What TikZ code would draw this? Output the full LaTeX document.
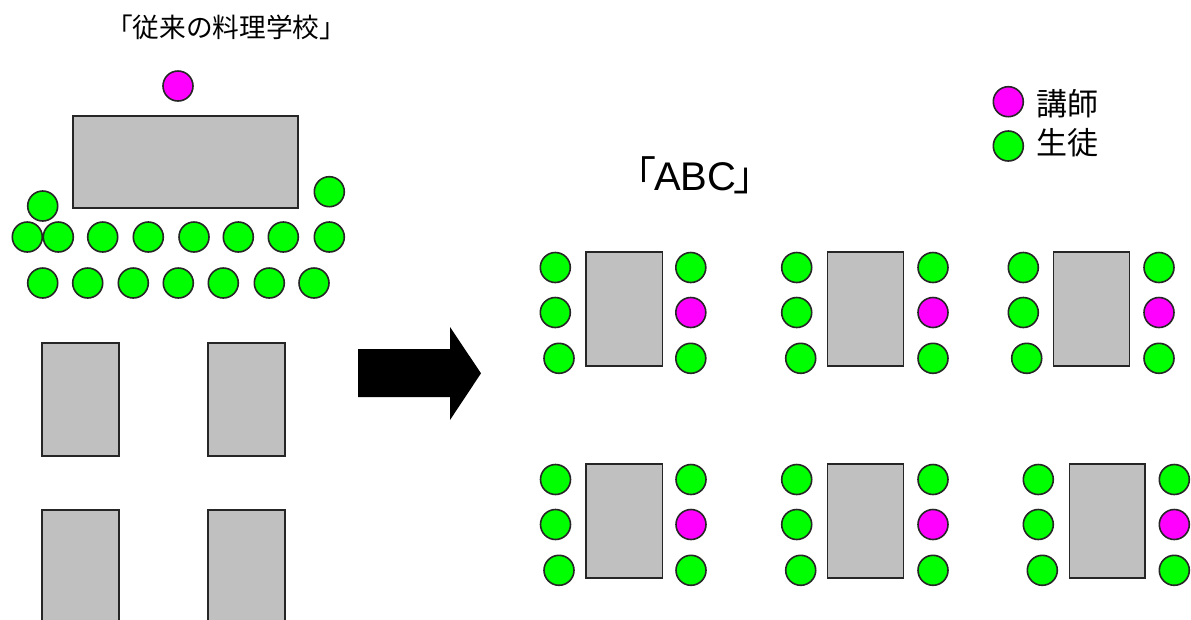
\documentclass[tikz,border=0pt]{standalone}
\usepackage{fontspec}
\setmainfont{Liberation Sans}
\newfontfamily\jpfont{Noto Sans CJK JP}
\definecolor{stugreen}{HTML}{00FF00}
\definecolor{teamag}{HTML}{FF00FF}
\definecolor{tablegray}{HTML}{C0C0C0}
\definecolor{edgecol}{HTML}{262626}
\tikzset{
  seat/.style={circle,draw=edgecol,line width=1.2pt,minimum size=22.5pt,inner sep=0pt},
  student/.style={seat,fill=stugreen},
  teacher/.style={seat,fill=teamag},
  desk/.style={draw=edgecol,fill=tablegray,line width=1.2pt},
  jptext/.style={inner sep=0pt,text=black}
}
\begin{document}
\begin{tikzpicture}[x=0.75pt,y=-0.75pt]
\clip (0,0) rectangle (1191,619);
\fill[white] (0,0) rectangle (1191,619);

% ---------- left: traditional school ----------
\node[jptext,font=\jpfont\fontsize{20pt}{22pt}\selectfont] (title) at (226,27) {「従来の料理学校」};
\node[teacher] (lt) at (178,86) {};
\draw[desk] (73,116) rectangle (298,208);
\node[student] (ls0a) at (42.7,206) {};
\node[student] (ls0b) at (329.3,191.7) {};
\foreach \i/\x in {1/27.3,2/58.3,3/102.7,4/148.3,5/194,6/238.3,7/283.3,8/329.3}
  \node[student] (lr1-\i) at (\x,237) {};
\foreach \i/\x in {1/42.7,2/87.7,3/133.3,4/178.3,5/223.3,6/269.3,7/314}
  \node[student] (lr2-\i) at (\x,283) {};
\draw[desk] (42,343) rectangle (119,456);
\draw[desk] (208,343) rectangle (285,456);
\draw[desk] (42,510) rectangle (119,625);
\draw[desk] (208,510) rectangle (285,625);

% ---------- arrow ----------
\fill[black] (358,349) -- (450,349) -- (450,327) -- (481,373.3) -- (450,420) -- (450,397) -- (358,397) -- cycle;

% ---------- right: ABC ----------
\node[inner sep=0pt,anchor=base west,font=\fontsize{30pt}{32pt}\selectfont] (abc) at (616,190.7)
  {{\jpfont 「}\kern-1.5pt ABC\kern-2.25pt{\jpfont 」}};

\node[teacher] (legt) at (1008.3,101.7) {};
\node[student] (legs) at (1008.3,146) {};
\node[jptext,anchor=west,font=\jpfont\fontsize{23.25pt}{25pt}\selectfont] (legtl) at (1036.5,103.7) {講師};
\node[jptext,anchor=west,font=\jpfont\fontsize{23.25pt}{25pt}\selectfont] (legsl) at (1036.5,143) {生徒};

\foreach \n/\lx/\bx/\ra/\rb/\rx/\ty in {
  1/555.3/559/585.7/662.3/690.8/0,
  2/796.7/800.7/827.3/903.3/933/0,
  3/1023.3/1026.7/1053.3/1129.3/1159/0,
  4/555.5/559/585.7/662.3/691/212,
  5/796.7/800.7/827.3/903.3/933/212,
  6/1038.3/1042.3/1069.3/1145/1174.3/212}
{
  \draw[desk] (\ra,251.7+\ty) rectangle (\rb,366+\ty);
  \node[student] (g\n-l1) at (\lx,267.5+\ty) {};
  \node[student] (g\n-l2) at (\lx,312.5+\ty) {};
  \node[student] (g\n-l3) at (\bx,358.3+\ty) {};
  \node[student] (g\n-r1) at (\rx,267.5+\ty) {};
  \node[teacher] (g\n-r2) at (\rx,312.5+\ty) {};
  \node[student] (g\n-r3) at (\rx,358.3+\ty) {};
}
\end{tikzpicture}
\end{document}
